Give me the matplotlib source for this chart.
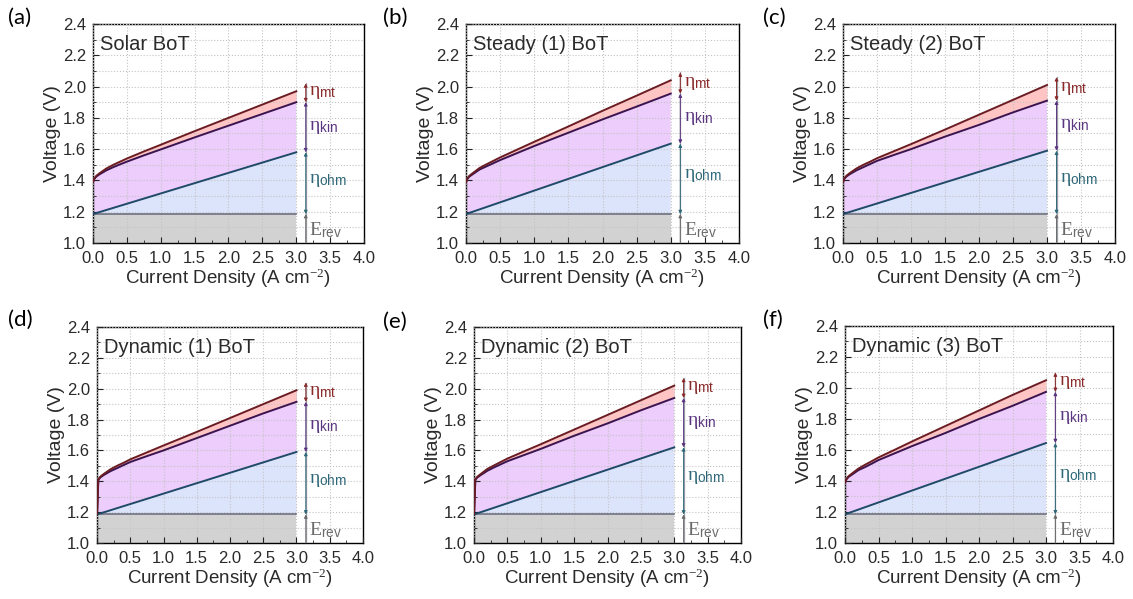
import numpy as np
import matplotlib
matplotlib.use("Agg")
import matplotlib.pyplot as plt
from matplotlib.ticker import MultipleLocator

plt.rcParams["font.family"] = ["Liberation Sans", "DejaVu Sans"]
plt.rcParams["mathtext.fontset"] = "custom"
plt.rcParams["mathtext.rm"] = "Liberation Serif"
plt.rcParams["mathtext.it"] = "Liberation Serif"
plt.rcParams["mathtext.sf"] = "Liberation Sans"

# data
panel_tags = ["(a)", "(b)", "(c)", "(d)", "(e)", "(f)"]
panel_names = ["Solar BoT", "Steady (1) BoT", "Steady (2) BoT",
               "Dynamic (1) BoT", "Dynamic (2) BoT", "Dynamic (3) BoT"]

j = [0.0, 0.02, 0.05, 0.1, 0.2, 0.3, 0.4, 0.5, 0.75, 1.0, 1.5, 2.0, 2.5, 3.0]
e_rev = 1.185
ohm_end = [1.58, 1.635, 1.59, 1.59, 1.62, 1.645]

v_kin_a = [1.39, 1.41, 1.425, 1.44, 1.465, 1.485, 1.503, 1.52, 1.56, 1.598, 1.675, 1.75, 1.825, 1.90]
v_kin_b = [1.39, 1.41, 1.425, 1.44, 1.47, 1.49, 1.51, 1.53, 1.575, 1.62, 1.705, 1.79, 1.872, 1.955]
v_kin_c = [1.39, 1.41, 1.425, 1.44, 1.465, 1.485, 1.505, 1.525, 1.563, 1.60, 1.68, 1.755, 1.835, 1.91]
v_kin_d = [1.19, 1.41, 1.425, 1.44, 1.465, 1.485, 1.505, 1.525, 1.563, 1.60, 1.68, 1.76, 1.84, 1.915]
v_kin_e = [1.19, 1.41, 1.425, 1.44, 1.468, 1.49, 1.51, 1.53, 1.57, 1.61, 1.695, 1.775, 1.86, 1.94]
v_kin_f = [1.39, 1.41, 1.425, 1.44, 1.47, 1.49, 1.512, 1.535, 1.58, 1.625, 1.71, 1.80, 1.885, 1.975]

v_tot_a = [1.39, 1.412, 1.43, 1.447, 1.477, 1.50, 1.52, 1.54, 1.585, 1.628, 1.715, 1.80, 1.885, 1.97]
v_tot_b = [1.39, 1.412, 1.43, 1.447, 1.48, 1.503, 1.525, 1.547, 1.597, 1.647, 1.745, 1.845, 1.942, 2.04]
v_tot_c = [1.39, 1.412, 1.43, 1.447, 1.477, 1.50, 1.52, 1.542, 1.587, 1.632, 1.725, 1.82, 1.915, 2.01]
v_tot_d = [1.19, 1.412, 1.43, 1.447, 1.477, 1.50, 1.52, 1.542, 1.587, 1.632, 1.72, 1.81, 1.90, 1.99]
v_tot_e = [1.19, 1.412, 1.43, 1.447, 1.48, 1.503, 1.525, 1.547, 1.594, 1.64, 1.735, 1.83, 1.925, 2.02]
v_tot_f = [1.39, 1.412, 1.43, 1.447, 1.48, 1.505, 1.528, 1.552, 1.603, 1.655, 1.755, 1.855, 1.955, 2.05]

v_kin = [v_kin_a, v_kin_b, v_kin_c, v_kin_d, v_kin_e, v_kin_f]
v_tot = [v_tot_a, v_tot_b, v_tot_c, v_tot_d, v_tot_e, v_tot_f]

# axes boxes in pixels: left, right, top, bottom
boxes = [(93, 364, 24, 243), (466, 739, 24, 243), (843, 1115, 24, 243),
         (97, 363, 327, 543), (474, 741, 327, 543), (845, 1113, 326, 543)]
tag_pos = [(8, 18), (383, 18), (763, 18), (8, 320), (383, 322), (763, 320)]

W, H = 1133, 599
fig = plt.figure(figsize=(W / 100, H / 100), dpi=100)

c_gray = "#d2d2d2"
c_blue = "#dce4fc"
c_purple = "#eccdfb"
c_pink = "#ffc4c4"
c_line_rev = "#6e7080"
c_line_ohm = "#1f4a68"
c_line_kin = "#3a1450"
c_line_tot = "#6a1c22"
c_t_mt = "#8a2a2a"
c_t_kin = "#5a3580"
c_t_ohm = "#2f6878"
c_t_rev = "#6a6a6a"
c_text = "#2a2a2a"

for i in range(6):
    l, r, t, b = boxes[i]
    ax = fig.add_axes([l / W, 1 - b / H, (r - l) / W, (b - t) / H])
    x = np.array(j)
    kin = np.array(v_kin[i])
    tot = np.array(v_tot[i])
    oe = ohm_end[i]

    ax.fill_between([0, 3], 1.0, e_rev, color=c_gray, lw=0, zorder=1)
    ax.fill([0, 3, 3], [e_rev, oe, e_rev], color=c_blue, lw=0, zorder=1)
    ax.fill(np.r_[x, [3.0, 0.0]], np.r_[kin, [oe, e_rev]], color=c_purple, lw=0, zorder=1)
    ax.fill_between(x, kin, tot, color=c_pink, lw=0, zorder=1)

    ax.plot([0, 3], [e_rev, e_rev], color=c_line_rev, lw=1.2, zorder=3)
    ax.plot([0, 3], [e_rev, oe], color=c_line_ohm, lw=1.4, zorder=3)
    ax.plot(x, kin, color=c_line_kin, lw=1.4, zorder=3)
    ax.plot(x, tot, color=c_line_tot, lw=1.4, zorder=3)

    # overpotential bars
    xa = 3.14
    top = tot[-1] + 0.05
    ax.plot([xa, xa], [1.0, top], color="#9a9ea6", lw=0.9, zorder=3)
    segs = [(1.0, e_rev, c_t_rev, "-|>"), (e_rev, oe, c_t_ohm, "<|-|>"),
            (oe, kin[-1], c_t_kin, "<|-|>"), (kin[-1], top, c_t_mt, "<|-|>")]
    for y0, y1, c, st in segs:
        ax.annotate("", xy=(xa, y1), xytext=(xa, y0),
                    arrowprops=dict(arrowstyle=st, color=c, lw=0.7,
                                    mutation_scale=5, shrinkA=0, shrinkB=0),
                    zorder=4)
    ax.text(3.19, (kin[-1] + top) / 2, r"$\eta_{\mathsf{mt}}$", color=c_t_mt,
            fontsize=14, va="center", ha="left")
    ax.text(3.19, (oe + kin[-1]) / 2, r"$\eta_{\mathsf{kin}}$", color=c_t_kin,
            fontsize=14, va="center", ha="left")
    ax.text(3.19, (e_rev + oe) / 2 + 0.02, r"$\eta_{\mathsf{ohm}}$", color=c_t_ohm,
            fontsize=14, va="center", ha="left")
    ax.text(3.19, 1.085, r"$\mathrm{E}_{\mathsf{rev}}$", color=c_t_rev,
            fontsize=14, va="center", ha="left")

    ax.set_xlim(0, 4)
    ax.set_ylim(1.0, 2.4)
    ax.xaxis.set_major_locator(MultipleLocator(0.5))
    ax.xaxis.set_minor_locator(MultipleLocator(0.25))
    ax.yaxis.set_major_locator(MultipleLocator(0.2))
    ax.yaxis.set_minor_locator(MultipleLocator(0.1))
    ax.xaxis.set_major_formatter(lambda v, p: f"{v:.1f}")
    ax.yaxis.set_major_formatter(lambda v, p: f"{v:.1f}")
    ax.tick_params(which="both", direction="in", labelsize=12,
                   color="#222222", labelcolor=c_text)
    ax.tick_params(axis="x", which="major", length=4, pad=6)
    ax.tick_params(axis="y", which="major", length=4, pad=5)
    ax.tick_params(which="minor", length=2)
    ax.grid(True, which="major", axis="x", ls=":", color="#c4c4c4", lw=0.8)
    ax.grid(True, which="both", axis="y", ls=":", color="#c4c4c4", lw=0.8)
    ax.set_axisbelow(False)
    for s in ax.spines.values():
        s.set_linewidth(1.0)

    ax.set_xlabel("Current Density (A cm$^{-2}$)", fontsize=13.5,
                  labelpad=0, color=c_text)
    ax.set_ylabel("Voltage (V)", fontsize=14, labelpad=1, color=c_text)
    ax.text(0.025, 0.905, panel_names[i], transform=ax.transAxes,
            fontsize=14.5, va="center", ha="left", color=c_text)

    tx, ty = tag_pos[i]
    fig.text(tx / W, 1 - ty / H, panel_tags[i], fontsize=16,
             family=["Lato", "DejaVu Sans"], va="center", ha="left")

fig.savefig("out.png", dpi=100)
